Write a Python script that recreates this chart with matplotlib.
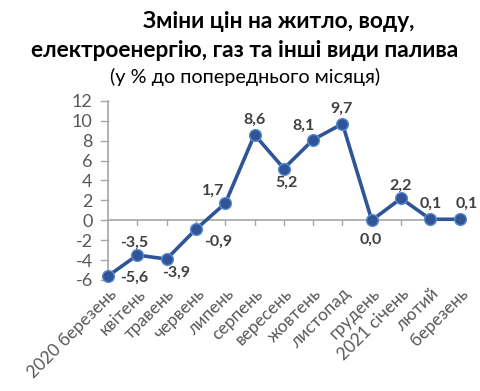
import matplotlib.pyplot as plt

months = ["2020 березень", "квітень", "травень", "червень", "липень", "серпень",
          "вересень", "жовтень", "листопад", "грудень", "2021 січень", "лютий", "березень"]
values = [-5.6, -3.5, -3.9, -0.9, 1.7, 8.6, 5.2, 8.1, 9.7, 0.0, 2.2, 0.1, 0.1]
labels = ["-5,6", "-3,5", "-3,9", "-0,9", "1,7", "8,6", "5,2", "8,1", "9,7", "0,0", "2,2", "0,1", "0,1"]
# label offsets in points (dx, dy)
offsets = [(19, -1), (-2, 9), (7, -10), (16, -9), (-9, 9), (0, 11), (2, -10), (-7, 10),
           (-1, 11), (-1, -14), (0, 9), (0, 11), (5, 11)]

plt.rcParams['font.family'] = ['Lato', 'DejaVu Sans']
plt.rcParams['axes.unicode_minus'] = False

fig = plt.figure(figsize=(4.8, 3.91), dpi=100)
ax = fig.add_axes([0.225, 0.284, 0.748, 0.458])

x = list(range(len(values)))
ax.plot(x, values, color='#2F5597', lw=2.6, marker='o', ms=8.5,
        mfc='#2F5597', mec='#5B8BD0', mew=1.0, zorder=3, clip_on=False)

for i, (v, lab, off) in enumerate(zip(values, labels, offsets)):
    ax.annotate(lab, (i, v), xytext=off, textcoords='offset points',
                ha='center', va='center', fontsize=11.5, fontweight='bold', color='#404040')

ax.set_ylim(-6, 12)
ax.set_yticks(range(-6, 13, 2))
ax.set_xlim(0, 12.25)
ax.set_xticks(x)
ax.set_xticklabels(months, rotation=45, ha='right', rotation_mode='anchor')
ax.tick_params(axis='y', length=0, labelsize=13, colors='#595959', pad=11)
ax.tick_params(axis='x', length=0, labelsize=12.5, labelcolor='#595959', pad=4)

for s in ['top', 'right', 'bottom']:
    ax.spines[s].set_visible(False)
ax.spines['left'].set_color('#A6A6A6')
ax.spines['left'].set_linewidth(1.2)
ax.axhline(0, color='#A6A6A6', lw=1.2, zorder=1)
# ticks on zero line
for i in x[1:]:
    ax.plot([i, i], [0, -0.5], color='#A6A6A6', lw=1, zorder=1)
# y-axis small ticks
for t in range(-6, 13, 2):
    ax.plot([-0.25, 0], [t, t], color='#A6A6A6', lw=1, clip_on=False, zorder=1)

fig.text(0.581, 0.944, "Зміни цін на житло, воду,", ha='center', va='center',
         fontsize=16.3, fontweight='bold', color='#000000')
fig.text(0.51, 0.872, "електроенергію, газ та інші види палива", ha='center', va='center',
         fontsize=16.3, fontweight='bold', color='#000000')
fig.text(0.51, 0.803, "(у % до попереднього місяця)", ha='center', va='center',
         fontsize=14.3, color='#000000')

fig.savefig('out.png', dpi=100)
